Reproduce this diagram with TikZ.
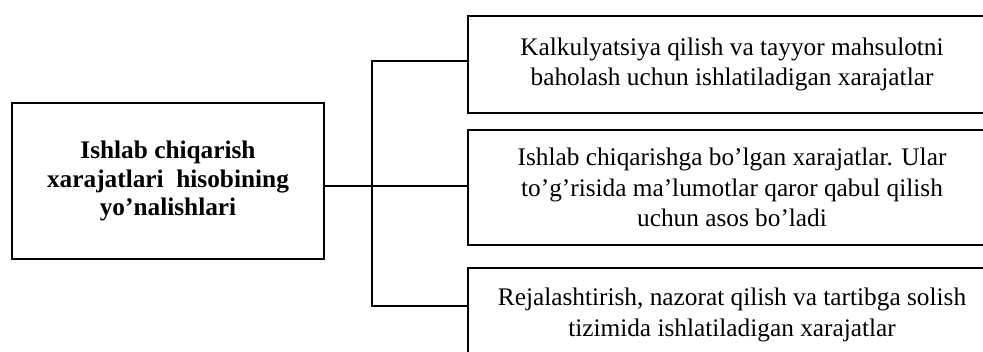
\documentclass[tikz,border=0pt]{standalone}
\usepackage{fontspec}
\setmainfont{Liberation Serif}
\begin{document}
\begin{tikzpicture}[x=0.025cm, y=-0.025cm,
    mainbox/.style={draw=black, line width=1.4pt, minimum width=7.8cm, minimum height=3.9cm, inner sep=0pt, align=center, font=\fontsize{18}{20.5}\selectfont\bfseries},
    costbox/.style={draw=black, line width=1.4pt, minimum width=13.2cm, inner sep=0pt, align=center, font=\fontsize{18}{21.5}\selectfont},
    link/.style={black, line width=1.1pt}]
 \useasboundingbox (0,0) rectangle (983,352);
 \begin{scope}
        \clip (0,0) rectangle (983,352);
        \node[mainbox] (main) at (168,181) {Ishlab chiqarish\\xarajatlari~ hisobining\\yo’nalishlari};
        \node[costbox, minimum height=2.425cm] (cost-1) at (732,64.5) {Kalkulyatsiya qilish va tayyor mahsulotni\\baholash uchun ishlatiladigan xarajatlar};
        \node[costbox, minimum height=2.875cm] (cost-2) at (732,187.5) {Ishlab chiqarishga bo’lgan xarajatlar. Ular\\to’g’risida ma’lumotlar qaror qabul qilish\\uchun asos bo’ladi};
        \node[costbox, minimum height=2.35cm] (cost-3) at (732,315) {Rejalashtirish, nazorat qilish va tartibga solish\\tizimida ishlatiladigan xarajatlar};
        \coordinate (hub) at (372,186);
        \coordinate (hub-top) at (372,61);
        \coordinate (hub-bot) at (372,306);
        \draw[link] (main.east |- hub) -- (hub -| cost-2.west);
        \draw[link] (cost-1.west |- hub-top) -- (hub-top) -- (hub-bot) -- (cost-3.west |- hub-bot);
 \end{scope}
\end{tikzpicture}
\end{document}
